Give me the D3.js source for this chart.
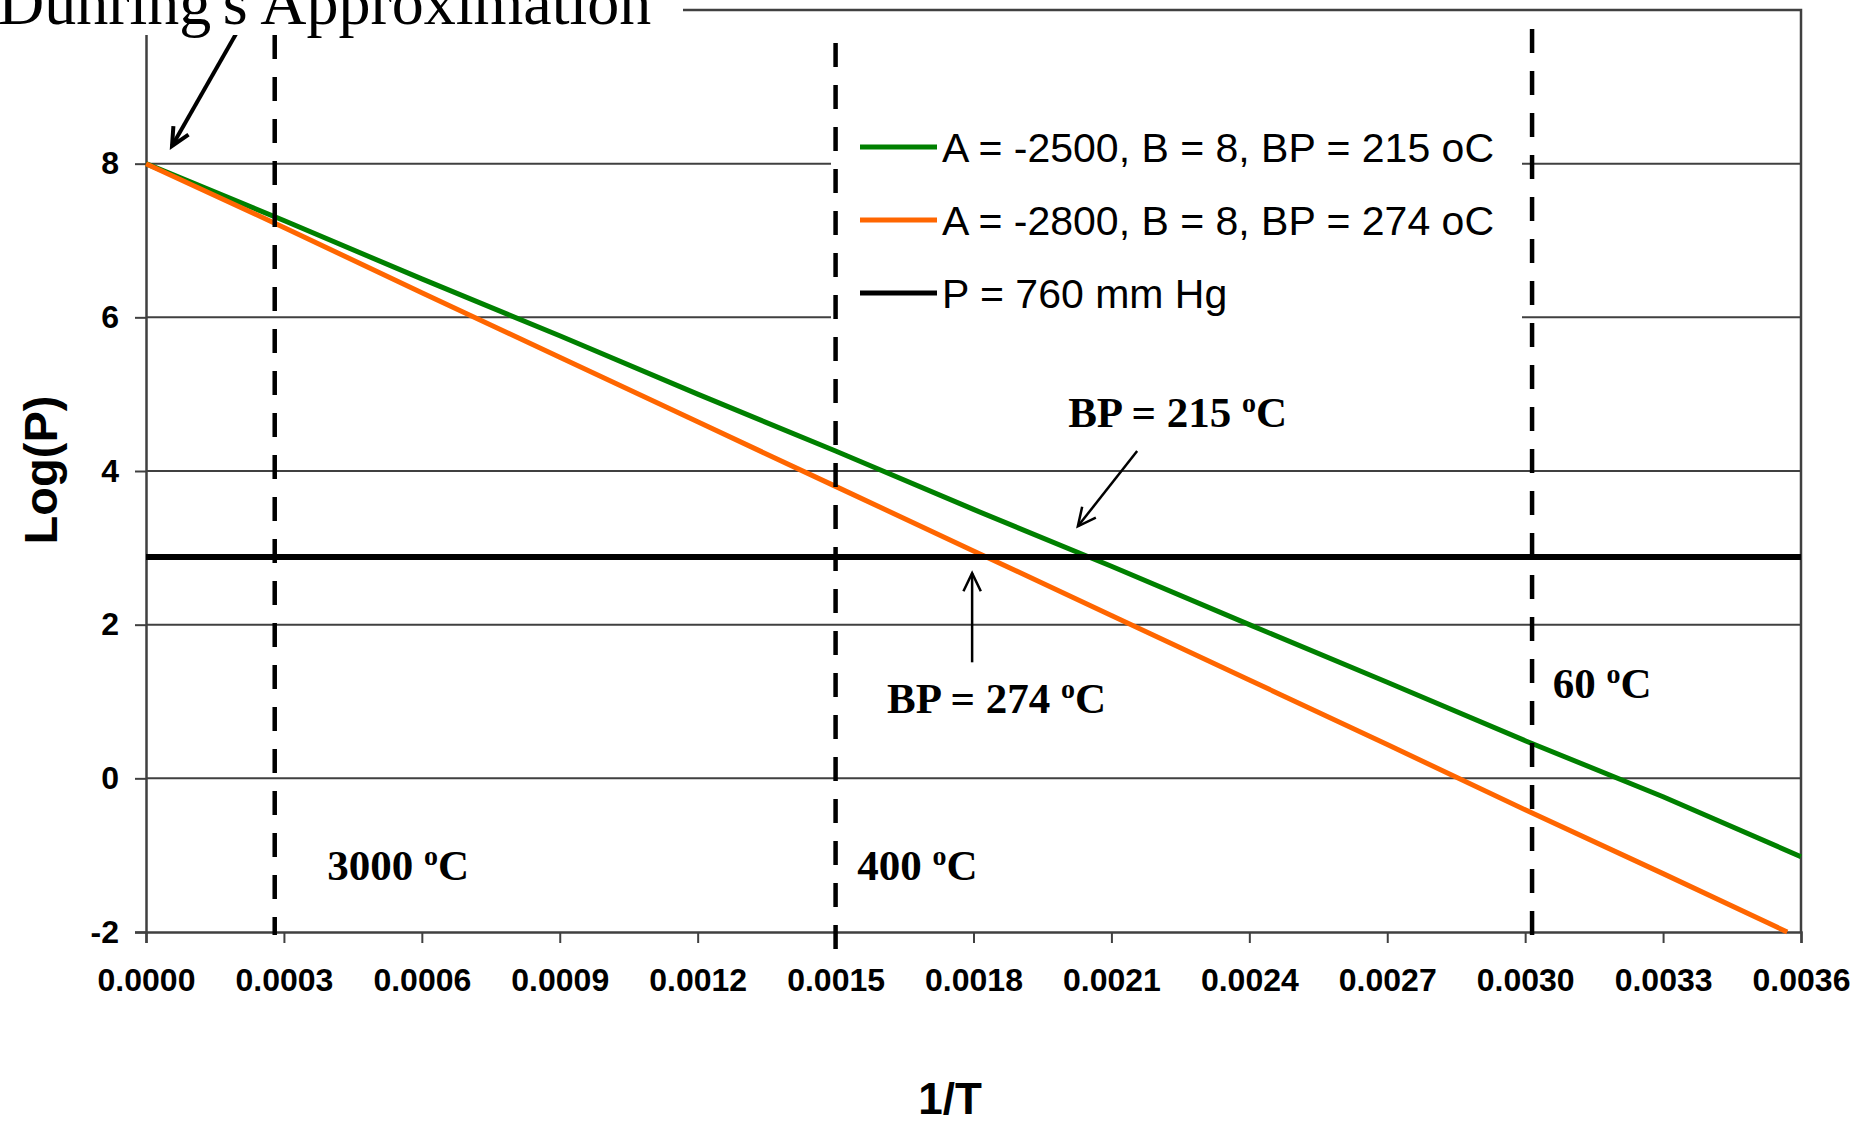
<!DOCTYPE html>
<html>
<head>
<meta charset="utf-8">
<script src="https://cdn.jsdelivr.net/npm/d3@7"></script>
<style>
  html, body { margin: 0; padding: 0; background: #fff; }
  svg { display: block; }
</style>
</head>
<body>
<svg id="chart" width="1850" height="1122"></svg>
<script>
// ---- data ----
const xTicks = [0, 0.0003, 0.0006, 0.0009, 0.0012, 0.0015, 0.0018, 0.0021, 0.0024, 0.0027, 0.0030, 0.0033, 0.0036];
const xTickLabels = ["0.0000","0.0003","0.0006","0.0009","0.0012","0.0015","0.0018","0.0021","0.0024","0.0027","0.0030","0.0033","0.0036"];
const yTicks = [-2, 0, 2, 4, 6, 8];
const yTickLabels = ["-2", "0", "2", "4", "6", "8"];
const gridValues = [0, 2, 4, 6, 8];

const greenX = [0, 0.0003, 0.0006, 0.0009, 0.0012, 0.0015, 0.0018, 0.0021, 0.0024, 0.0027, 0.0030, 0.0033, 0.0036];
const greenY = [8.0, 7.26, 6.5, 5.76, 5.0, 4.26, 3.5, 2.76, 2.0, 1.25, 0.49, -0.24, -1.02];
const orangeX = [0, 0.0003, 0.0006, 0.0009, 0.0012, 0.0015, 0.0018, 0.0021, 0.0024, 0.0027, 0.0030, 0.0033, 0.00357];
const orangeY = [8.0, 7.17, 6.32, 5.48, 4.64, 3.8, 2.96, 2.12, 1.28, 0.44, -0.41, -1.24, -2.0];
const pressureLine = 2.88; // log10(760)

const seriesNames = ["A = -2500, B = 8, BP = 215 oC", "A = -2800, B = 8, BP = 274 oC", "P = 760 mm Hg"];
const seriesColors = ["#008000", "#FF6600", "#000000"];

const tempLinesX = [0.00028, 0.0015, 0.003015];
const tempLabels = ["3000", "400", "60"];
const tempLabelX = [0.000394, 0.001547, 0.00306];
const tempLabelY = [-1.32, -1.32, 1.045];

const bpLabels = ["BP = 215", "BP = 274"];
const bpLabelX = [0.002006, 0.001612];
const bpLabelY = [4.57, 0.85];
// arrows: [x1, y1, x2, y2] in data units (head at x2,y2)
const arrows = [
  [0.000196, 9.69, 0.0000566, 8.23],
  [0.002156, 4.26, 0.002027, 3.28],
  [0.001797, 1.51, 0.001797, 2.67]
];
const titleText = "Duhring's Approximation";

// ---- layout ----
const svg = d3.select("#chart");
const L = 146, R = 1801, T = 10, B = 932;
const x = d3.scaleLinear().domain([0, 0.0036]).range([L, R]);
const y = d3.scaleLinear().domain([-2, 10]).range([B, T]);

// gridlines
svg.append("g").selectAll("line").data(gridValues).join("line")
  .attr("x1", L).attr("x2", R)
  .attr("y1", d => y(d)).attr("y2", d => y(d))
  .attr("stroke", "#404040").attr("stroke-width", 2);

// plot border top/right
svg.append("path")
  .attr("d", `M${L},${y(10)}H${R}V${B}`)
  .attr("fill", "none").attr("stroke", "#404040").attr("stroke-width", 2.5);

// axes
const xAxis = d3.axisBottom(x).tickValues(xTicks).tickFormat((d, i) => xTickLabels[i]).tickSize(11).tickPadding(37);
const gx = svg.append("g").attr("transform", `translate(0,${B})`).call(xAxis);
gx.select(".domain").attr("stroke", "#404040").attr("stroke-width", 2.5);
gx.selectAll(".tick line").attr("stroke", "#404040").attr("stroke-width", 2);
gx.selectAll("text").attr("font-family", "Arial, 'Liberation Sans', sans-serif")
  .attr("font-weight", "bold").attr("font-size", 32).attr("fill", "#000").attr("dy", "0.35em");

const yAxis = d3.axisLeft(y).tickValues(yTicks).tickSize(11).tickPadding(16)
  .tickFormat((d, i) => yTickLabels[i]);
const gy = svg.append("g").attr("transform", `translate(${L},0)`).call(yAxis);
gy.select(".domain").attr("stroke", "#404040").attr("stroke-width", 2.5);
gy.selectAll(".tick line").attr("stroke", "#404040").attr("stroke-width", 2);
gy.selectAll("text").attr("font-family", "Arial, 'Liberation Sans', sans-serif")
  .attr("font-weight", "bold").attr("font-size", 32).attr("fill", "#000");

// axis titles
svg.append("text").attr("x", 950).attr("y", 1114).attr("text-anchor", "middle")
  .attr("font-family", "Arial, 'Liberation Sans', sans-serif").attr("font-weight", "bold")
  .attr("font-size", 44).text("1/T");
svg.append("text").attr("transform", `translate(57,470) rotate(-90)`).attr("text-anchor", "middle")
  .attr("font-family", "Arial, 'Liberation Sans', sans-serif").attr("font-weight", "bold")
  .attr("font-size", 47).text("Log(P)");

// curves
const line = d3.line().x(d => x(d[0])).y(d => y(d[1]));
const greenData = greenX.map((v, i) => [v, greenY[i]]);
const orangeData = orangeX.map((v, i) => [v, orangeY[i]]);
svg.append("path").datum(greenData).attr("d", line).attr("fill", "none")
  .attr("stroke", seriesColors[0]).attr("stroke-width", 5);
svg.append("path").datum(orangeData).attr("d", line).attr("fill", "none")
  .attr("stroke", seriesColors[1]).attr("stroke-width", 5);
svg.append("line").attr("x1", x(0)).attr("x2", x(0.0036))
  .attr("y1", y(pressureLine)).attr("y2", y(pressureLine))
  .attr("stroke", seriesColors[2]).attr("stroke-width", 6);

// legend
const lg = svg.append("g");
lg.append("rect").attr("x", 831).attr("y", 112).attr("width", 691).attr("height", 225).attr("fill", "#fff");
const rowY = [147, 220, 293];
seriesNames.forEach((name, i) => {
  lg.append("line").attr("x1", 860).attr("x2", 937).attr("y1", rowY[i]).attr("y2", rowY[i])
    .attr("stroke", seriesColors[i]).attr("stroke-width", 5);
  lg.append("text").attr("x", 942).attr("y", rowY[i]).attr("dy", "0.36em")
    .attr("font-family", "Arial, 'Liberation Sans', sans-serif").attr("font-size", 41)
    .attr("fill", "#000").text(name);
});

// dashed temperature lines
const dashTops = [35, 43, 29];
const dashBottoms = [935, 950, 935];
svg.append("g").selectAll("line").data(tempLinesX).join("line")
  .attr("x1", d => x(d)).attr("x2", d => x(d))
  .attr("y1", (d, i) => dashTops[i]).attr("y2", (d, i) => dashBottoms[i])
  .attr("stroke", "#000").attr("stroke-width", 4.5).attr("stroke-dasharray", "24 18");

// annotation text helper with superscript o
function degText(sel, label, px, py) {
  const t = sel.append("text").attr("x", px).attr("y", py)
    .attr("font-family", "'Times New Roman', 'Liberation Serif', serif")
    .attr("font-weight", "bold").attr("font-size", 43).attr("fill", "#000");
  t.append("tspan").text(label + " ");
  t.append("tspan").attr("font-size", 28).attr("dy", -15).text("o");
  t.append("tspan").attr("dy", 15).text("C");
}
tempLabels.forEach((lab, i) => degText(svg, lab, x(tempLabelX[i]), y(tempLabelY[i])));
bpLabels.forEach((lab, i) => degText(svg, lab, x(bpLabelX[i]), y(bpLabelY[i])));

// arrows
function arrow(a, w) {
  const x1 = x(a[0]), y1 = y(a[1]), x2 = x(a[2]), y2 = y(a[3]);
  const ang = Math.atan2(y2 - y1, x2 - x1);
  const hl = 20, ha = 0.45;
  svg.append("line").attr("x1", x1).attr("y1", y1).attr("x2", x2).attr("y2", y2)
    .attr("stroke", "#000").attr("stroke-width", w);
  const p1 = [x2 - hl * Math.cos(ang - ha), y2 - hl * Math.sin(ang - ha)];
  const p2 = [x2 - hl * Math.cos(ang + ha), y2 - hl * Math.sin(ang + ha)];
  svg.append("path").attr("d", `M${p1[0]},${p1[1]}L${x2},${y2}L${p2[0]},${p2[1]}`)
    .attr("fill", "none").attr("stroke", "#000").attr("stroke-width", w)
    .attr("stroke-linejoin", "miter");
}
arrow(arrows[0], 4);
arrow(arrows[1], 2.5);
arrow(arrows[2], 2.5);

// title box
svg.append("rect").attr("x", 0).attr("y", 0).attr("width", 683).attr("height", 35).attr("fill", "#fff");
svg.append("text").attr("x", -2).attr("y", 24)
  .attr("font-family", "'Times New Roman', 'Liberation Serif', serif")
  .attr("font-size", 64).attr("fill", "#000").text(titleText);
</script>
</body>
</html>
